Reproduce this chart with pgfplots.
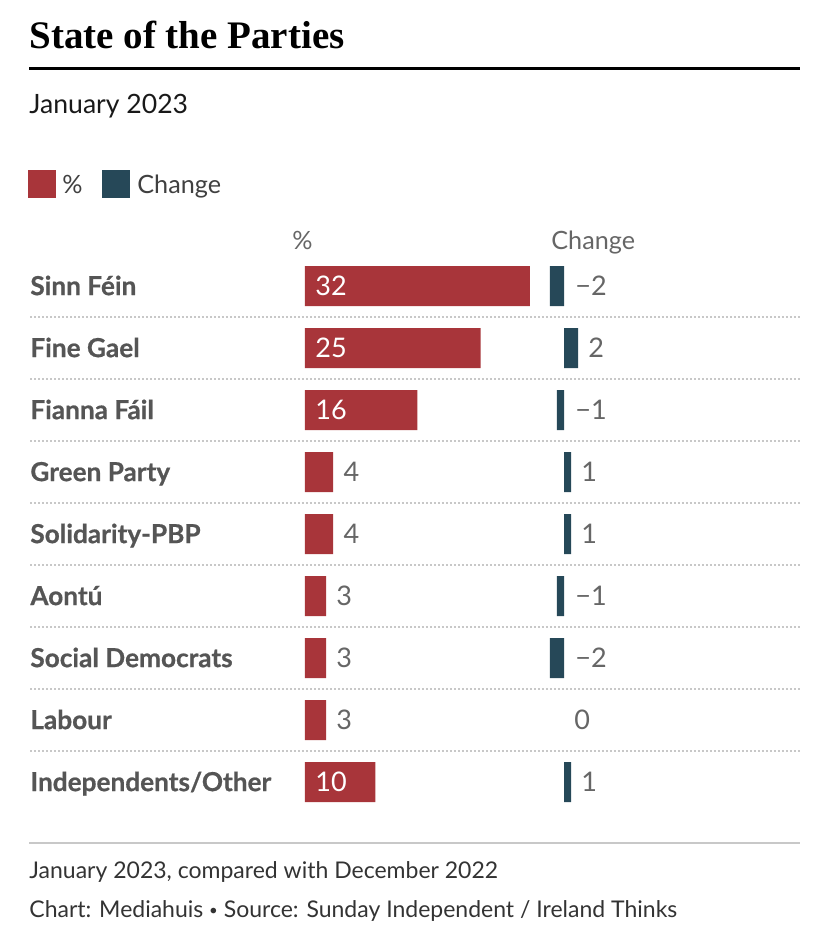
\documentclass[border=0pt]{standalone}
\usepackage{pgfplots}
\pgfplotsset{compat=1.18}
\usepackage{pgfplotstable}
\usepackage{fontspec}
\setmainfont{Lato}
\newfontfamily\titlefont{Liberation Serif}
\newfontfamily\heavyfont{Lato}[BoldFeatures={FakeBold=0.6}]

\definecolor{pred}{HTML}{A8353A}
\definecolor{pblue}{HTML}{264858}
\definecolor{labgray}{HTML}{555555}
\definecolor{valgray}{HTML}{666666}
\definecolor{sepgray}{HTML}{C8C8C8}

% rows top to bottom: 0 = Sinn Fein ... 8 = Independents/Other
\pgfplotstableread{
idx pct change
0   32  -2
1   25   2
2   16  -1
3   4    1
4   4    1
5   3   -1
6   3   -2
7   3    0
8   10   1
}\polls

\begin{document}
\begin{tikzpicture}
% 1px = 0.5pt, origin top left
\path[use as bounding box] (0,0) rectangle (414pt,-472pt);

\node[anchor=base west, inner sep=0, font=\titlefont\bfseries\fontsize{19.5}{22}\selectfont]
  at (14.5pt,-24pt) {State of the Parties};
\draw[line width=1.1pt] (14.5pt,-34.2pt) -- (400pt,-34.2pt);
\node[anchor=base west, inner sep=0, font=\fontsize{13.3}{15}\selectfont, text=black!90]
  at (14.5pt,-56.5pt) {January 2023};

% legend
\fill[pred]  (14pt,-85pt) rectangle (28pt,-99pt);
\node[anchor=base west, inner sep=0, font=\fontsize{12.6}{14}\selectfont, text=black!75]
  at (31pt,-96.5pt) {\%};
\fill[pblue] (51pt,-85pt) rectangle (65pt,-99pt);
\node[anchor=base west, inner sep=0, font=\fontsize{12.6}{14}\selectfont, text=black!75]
  at (68.5pt,-96.5pt) {Change};

% column headers
\node[anchor=base west, inner sep=0, font=\fontsize{12.6}{14}\selectfont, text=valgray]
  at (146pt,-124.5pt) {\%};
\node[anchor=base west, inner sep=0, font=\fontsize{12.6}{14}\selectfont, text=valgray]
  at (275.5pt,-124.5pt) {Change};

% row separators
\foreach \k in {0,...,7}
  \draw[sepgray, line width=0.8pt, dash pattern=on 0.9pt off 1.1pt]
    (15pt,{-158.5pt-31pt*\k}) -- (400pt,{-158.5pt-31pt*\k});
\draw[sepgray, line width=0.8pt] (14.5pt,-421.5pt) -- (400pt,-421.5pt);

% percentage column
\begin{axis}[
  at={(152.5pt,-143pt)}, anchor=origin,
  x=3.515pt, y=31pt, y dir=reverse,
  xmin=0, xmax=32, ymin=-0.5, ymax=8.5,
  clip=false,
  axis line style={draw=none}, tick style={draw=none},
  xtick=\empty,
  ytick={0,...,8},
  yticklabels={Sinn Féin,Fine Gael,Fianna Fáil,Green Party,Solidarity-PBP,Aontú,Social Democrats,Labour,Independents/Other},
  yticklabel style={anchor=west, inner sep=0pt, xshift=-137.5pt,
    text height=9.1pt, text depth=0pt, text=labgray,
    font=\heavyfont\bfseries\fontsize{13.1}{14}\selectfont},
]
\addplot[xbar, fill=pred, draw=none, bar width=20pt,
  visualization depends on={\thisrow{pct}\as\pv},
  nodes near coords={\pgfmathtruncatemacro\pvi{\pv}%
    \ifnum\pvi>5 \color{white}\else\color{valgray}\fi\pvi},
  every node near coord/.append style={anchor=west, inner sep=0pt,
    text height=9.3pt, text depth=0pt,
    font=\fontsize{13.5}{14}\selectfont,
    xshift={(\pv>5 ? (5-3.515*\pv) : 5)*1pt}},
] table[x=pct, y=idx] {\polls};
\end{axis}

% change column
\begin{axis}[
  at={(282pt,-143pt)}, anchor=origin,
  x=3.515pt, y=31pt, y dir=reverse,
  xmin=-2.5, xmax=2.5, ymin=-0.5, ymax=8.5,
  clip=false,
  axis line style={draw=none}, tick style={draw=none},
  xtick=\empty, ytick=\empty,
]
% bars (a zero change draws no bar)
\addplot[xbar, fill=pblue, draw=none, bar width=20pt,
  unbounded coords=discard,
  x filter/.expression={x==0 ? nan : x},
] table[x=change, y=idx] {\polls};
% labels
\addplot[xbar, fill=none, draw=none, bar width=20pt,
  visualization depends on={\thisrow{change}\as\cv},
  nodes near coords={\pgfmathtruncatemacro\cvi{\cv}%
    \ifnum\cvi<0 −\number-\cvi\else\cvi\fi},
  every node near coord/.append style={anchor=west, inner sep=0pt,
    text height=9.3pt, text depth=0pt, text=valgray,
    font=\fontsize{13.5}{14}\selectfont,
    xshift={(\cv<0 ? (5.5-3.515*\cv) : 5)*1pt}},
] table[x=change, y=idx] {\polls};
\end{axis}

% footer
\node[anchor=base west, inner sep=0, font=\fontsize{11.5}{13}\selectfont, text=black!80]
  at (14.5pt,-439pt) {January 2023, compared with December 2022};
\node[anchor=base west, inner sep=0, font=\fontsize{11.5}{13}\selectfont, text=black!80]
  at (14.5pt,-458.5pt) {Chart: Mediahuis {\fontsize{7.5}{8}\selectfont\raisebox{0.9pt}{•}} Source: Sunday Independent / Ireland Thinks};
\end{tikzpicture}
\end{document}
